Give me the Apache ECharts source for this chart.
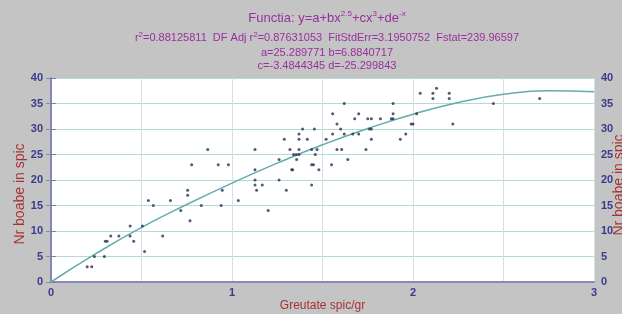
<!DOCTYPE html>
<html>
<head>
<meta charset="utf-8">
<script src="https://cdn.jsdelivr.net/npm/echarts@6/dist/echarts.min.js"></script>
<style>
  html, body { margin: 0; padding: 0; background: #c4c4c4; }
  #chart { width: 622px; height: 314px; }
</style>
</head>
<body>
<div id="chart"></div>
<script>
// masuratori: greutate spic (g) si numar boabe
const greutate = [
  0.20, 0.225, 0.24, 0.295, 0.30, 0.31, 0.33, 0.375, 0.437, 0.437, 0.457, 0.505, 0.517,
  0.538, 0.565, 0.617, 0.66, 0.717, 0.755, 0.755, 0.768, 0.777, 0.83, 0.866, 0.924,
  0.94, 0.946, 0.98, 1.035, 1.127, 1.127, 1.127, 1.127, 1.136, 1.167, 1.20, 1.26,
  1.26, 1.289, 1.30, 1.32, 1.33, 1.335, 1.34, 1.355, 1.37, 1.357, 1.37, 1.37, 1.39,
  1.37, 1.416, 1.44, 1.44, 1.45, 1.44, 1.455, 1.46, 1.47, 1.48, 1.52, 1.556, 1.556,
  1.58, 1.58, 1.606, 1.60, 1.62, 1.62, 1.55, 1.64, 1.667, 1.678, 1.70, 1.70, 1.74,
  1.75, 1.77, 1.76, 1.77, 1.77, 1.82, 1.88, 1.89, 1.89, 1.89, 1.93, 1.96, 1.99, 2.00,
  2.02, 2.04, 2.11, 2.11, 2.13, 2.20, 2.20, 2.22, 2.444, 2.70
];
const boabe = [
  3, 3, 5, 5, 8, 8, 9, 9, 11, 9, 8, 11, 6,
  16, 15, 9, 16, 14, 18, 17, 12, 23, 15, 26, 23,
  15, 18, 23, 16, 26, 22, 20, 19, 18, 19, 14, 24,
  20, 28, 18, 26, 22, 22, 25, 25, 29, 24, 28, 26, 30,
  25, 28, 26, 23, 23, 19, 30, 25, 26, 22, 28, 33, 29,
  31, 26, 26, 30, 29, 35, 23, 24, 29, 32, 33, 29, 26,
  32, 32, 30, 30, 28, 32, 32, 33, 35, 32, 28, 29, 31, 31,
  33, 37, 37, 36, 38, 37, 36, 31, 35, 36
];
// curba ajustata
const curbaX = [0, 0.25, 0.5, 0.75, 1, 1.25, 1.5, 1.75, 2, 2.25, 2.5, 2.75, 3];
const curbaY = [0, 5.6, 10.7, 15.2, 19.4, 23.3, 26.9, 30.1, 32.9, 35.2, 36.8, 37.5, 37.3];
const xTicks = [0, 1, 2, 3];

const puncte = greutate.map((g, i) => [g, boabe[i]]);
const curba = curbaX.map((g, i) => [g, curbaY[i]]);

const font = 'Liberation Sans, Arial, sans-serif';
const mov = '#9a2f9e';
const sup = { fontSize: 8, lineHeight: 9, verticalAlign: 'top', color: mov, fontFamily: font };
const rich13 = { sup: sup };

const dom = echarts.init(document.getElementById('chart'));
const option = {
  backgroundColor: '#c4c4c4',
  animation: false,
  title: [
    {
      text: 'Functia: y=a+bx{sup|2.5}+cx{sup|3}+de{sup|-x}',
      left: 322, top: 5, textAlign: 'center',
      textStyle: { color: mov, fontSize: 13, fontWeight: 'normal', fontFamily: font, lineHeight: 16, rich: rich13 }
    },
    {
      text: 'r{sup|2}=0.88125811  DF Adj r{sup|2}=0.87631053  FitStdErr=3.1950752  Fstat=239.96597',
      left: 322, top: 26, textAlign: 'center',
      textStyle: { color: mov, fontSize: 11, fontWeight: 'normal', fontFamily: font, lineHeight: 14, rich: rich13 }
    },
    {
      text: 'a=25.289771 b=6.8840717',
      left: 322, top: 42, textAlign: 'center',
      textStyle: { color: mov, fontSize: 11, fontWeight: 'normal', fontFamily: font }
    },
    {
      text: 'c=-3.4844345 d=-25.299843',
      left: 322, top: 55, textAlign: 'center',
      textStyle: { color: mov, fontSize: 11, fontWeight: 'normal', fontFamily: font }
    }
  ],
  grid: {
    left: 51, right: 28, top: 78, bottom: 32, outerBoundsMode: 'none',
    show: true, backgroundColor: '#ffffff', borderWidth: 0
  },
  xAxis: [
    {
      type: 'value', min: 0, max: 3, interval: 0.5,
      name: 'Greutate spic/gr', nameLocation: 'middle', nameGap: 18, nameMoveOverlap: false,
      nameTextStyle: { color: '#a83232', fontSize: 12, fontFamily: font },
      axisLine: { lineStyle: { color: '#8f92a8', width: 2 } },
      axisTick: { show: false },
      axisLabel: {
        color: '#3a3a8c', fontSize: 11, fontWeight: 'bold', fontFamily: font, margin: 5,
        formatter: v => (xTicks.indexOf(v) >= 0 ? String(v) : '')
      },
      splitLine: { lineStyle: { color: '#d2e0ea', width: 1 } }
    },
    {
      type: 'value', min: 0, max: 3, position: 'top',
      axisLine: { lineStyle: { color: '#8a86c4', width: 1.5 } },
      axisTick: { show: false }, axisLabel: { show: false }, splitLine: { show: false }
    }
  ],
  yAxis: [
    {
      type: 'value', min: 0, max: 40, interval: 5,
      name: 'Nr boabe in spic', nameLocation: 'middle', nameGap: 24, nameRotate: 90, nameMoveOverlap: false,
      nameTextStyle: { color: '#a83232', fontSize: 14, fontFamily: font, padding: [0, 28, 0, 0] },
      axisLine: { show: true, lineStyle: { color: '#a0a0a8', width: 1.5 } },
      axisTick: { show: true, length: 5, lineStyle: { color: '#8888a0' } },
      axisLabel: { color: '#3a3a8c', fontSize: 11, fontWeight: 'bold', fontFamily: font, margin: 8 },
      splitLine: { lineStyle: { color: '#b4dcd2', width: 1 } }
    },
    {
      type: 'value', min: 0, max: 40, interval: 5, position: 'right',
      name: 'Nr boabe in spic', nameLocation: 'middle', nameGap: 18, nameRotate: 90, nameMoveOverlap: false,
      nameTextStyle: { color: '#a83232', fontSize: 14, fontFamily: font, padding: [0, 10, 0, 0] },
      axisLine: { show: true, lineStyle: { color: '#7c78b8', width: 1.5 } },
      axisTick: { show: true, length: 5, lineStyle: { color: '#7c78b8' } },
      axisLabel: { color: '#3a3a8c', fontSize: 11, fontWeight: 'bold', fontFamily: font, margin: 7 },
      splitLine: { show: false }
    }
  ],
  series: [
    {
      name: 'curba', type: 'line', data: curba, smooth: true, symbol: 'none',
      lineStyle: { color: '#62acac', width: 1.5 }, z: 2
    },
    {
      name: 'puncte', type: 'scatter', data: puncte, symbolSize: 3,
      itemStyle: { color: '#2c2c52' }, z: 3
    }
  ]
};
dom.setOption(option);
</script>
</body>
</html>
